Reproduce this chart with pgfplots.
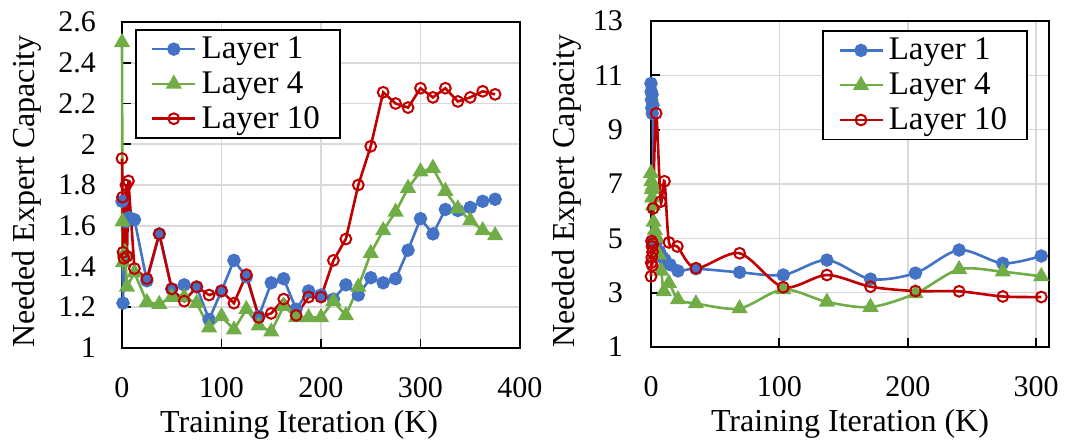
\documentclass[border=0pt]{standalone}
\usepackage{fontspec}
\setmainfont{Liberation Serif}
\usepackage{pgfplots}
\pgfplotsset{compat=1.18}
\definecolor{cblue}{HTML}{4472C4}
\definecolor{cgreen}{HTML}{70AD47}
\definecolor{cred}{HTML}{C00000}
\definecolor{cgrid}{HTML}{D9D9D9}
\pgfplotsset{
  panel/.style={
    scale only axis, width=199pt, height=163pt,
    anchor=south west, clip=false,
    axis line style={black, line width=1pt},
    grid=major, major grid style={cgrid, line width=0.8pt},
    tick align=inside, xtick pos=bottom, ytick pos=left,
    major tick length=4.5pt, tick style={black, line width=0.9pt},
    /pgf/number format/assume math mode=true,
    tick label style={font=\fontsize{15}{18}\selectfont},
    xticklabel style={anchor=center, yshift=-20pt},
    label style={font=\fontsize{16}{19}\selectfont},
    xlabel={Training Iteration (K)},
    ylabel={Needed Expert Capacity},
    legend style={draw=black, line width=0.9pt, font=\fontsize{16.5}{19}\selectfont,
      inner xsep=7.5pt, inner ysep=1pt, nodes={inner sep=2.5pt}},
    legend cell align=left,
    legend image code/.code={\draw[mark repeat=2,mark phase=2]
      plot coordinates {(0pt,0pt) (10.75pt,0pt) (21.5pt,0pt)};},
  },
  l1/.style={cblue, line width=1.3pt, mark=*, mark size=2.7pt},
  l4/.style={cgreen, line width=1.3pt, mark=triangle*, mark size=3.4pt},
  l10/.style={cred, line width=1.3pt, mark=o, mark size=2.7pt, mark options={line width=1pt}},
}
\begin{document}
\begin{tikzpicture}
% left panel
\begin{axis}[panel, at={(0pt,0pt)},
  xmin=0, xmax=400, ymin=1, ymax=2.6,
  xtick={0,100,200,300,400},
  ytick={1,1.2,1.4,1.6,1.8,2,2.2,2.4,2.6},
  yticklabel style={anchor=east, xshift=-9.5pt},
  xlabel style={at={(axis description cs:0.445,-0.258)}, anchor=base},
  ylabel style={at={(axis description cs:-0.2387,0.48)}, anchor=center},
  legend style={at={(0.033,0.979)}, anchor=north west},
]
\addplot[l1] coordinates {
  (0,1.72) (1,1.22) (2,1.45) (4,1.62) (7,1.64) (12.5,1.63) (25,1.33) (37.5,1.56)
  (50,1.29) (62.5,1.31) (75,1.30) (87.5,1.14) (100,1.28) (112.5,1.43) (125,1.35)
  (137.5,1.155) (150,1.32) (162.5,1.34) (175,1.19) (187.5,1.28) (200,1.26)
  (212.5,1.24) (225,1.31) (237.5,1.26) (250,1.345) (262.5,1.32) (275,1.34)
  (287.5,1.48) (300,1.635) (312.5,1.56) (325,1.68) (337.5,1.675) (350,1.69)
  (362.5,1.72) (375,1.73)
};
\addlegendentry{Layer 1}
\addplot[l4] coordinates {
  (0,2.5) (0.5,1.62) (1,1.42) (3,1.47) (5,1.30) (12.5,1.37) (25,1.225) (37.5,1.215)
  (50,1.25) (62.5,1.25) (75,1.22) (87.5,1.10) (100,1.155) (112.5,1.09) (125,1.19)
  (137.5,1.11) (150,1.08) (162.5,1.205) (175,1.15) (187.5,1.15) (200,1.15)
  (212.5,1.23) (225,1.16) (237.5,1.30) (250,1.465) (262.5,1.577) (275,1.668)
  (287.5,1.785) (300,1.866) (312.5,1.883) (325,1.77) (337.5,1.684) (350,1.626)
  (362.5,1.577) (375,1.552)
};
\addlegendentry{Layer 4}
\addplot[l10] coordinates {
  (0,1.93) (0.5,1.74) (1,1.47) (2,1.44) (4,1.80) (5,1.45) (6.5,1.82) (12.5,1.39)
  (25,1.34) (37.5,1.56) (50,1.29) (62.5,1.23) (75,1.30) (87.5,1.26) (100,1.28)
  (112.5,1.22) (125,1.36) (137.5,1.15) (150,1.17) (162.5,1.24) (175,1.16)
  (187.5,1.25) (200,1.25) (212.5,1.43) (225,1.535) (237.5,1.80) (250,1.99)
  (262.5,2.255) (275,2.20) (287.5,2.18) (300,2.275) (312.5,2.23) (325,2.275)
  (337.5,2.21) (350,2.23) (362.5,2.26) (375,2.245)
};
\addlegendentry{Layer 10}
\end{axis}
% right panel
\begin{axis}[panel, at={(264.5pt,0.5pt)},
  xmin=0, xmax=310, ymin=1, ymax=13,
  xtick={0,100,200,300},
  ytick={1,3,5,7,9,11,13},
  yticklabel style={anchor=east, xshift=-10.5pt},
  xlabel style={at={(axis description cs:0.5,-0.258)}, anchor=base},
  ylabel style={at={(axis description cs:-0.211,0.478)}, anchor=center},
  legend style={at={(0.947,0.972)}, anchor=north east},
]
\addplot[l1, smooth] coordinates {
  (0,10.7) (0.2,10.4) (0.4,10.1) (0.6,9.8) (0.8,10.3) (1,9.6) (1.5,9.9) (2,4.9)
  (4.4,4.9) (6.5,4.52) (9,4.3) (10.9,4.21) (14.8,4.03) (21,3.8) (35,3.88)
  (69,3.75) (103,3.65) (137,4.2) (171,3.5) (206,3.72) (240,4.57) (274,4.08) (304,4.35)
};
\addlegendentry{Layer 1}
\addplot[l4, smooth] coordinates {
  (0,7.4) (0.3,7.1) (0.6,6.8) (0.9,6.5) (1.2,6.9) (1.5,6.2) (2,5.6) (3,5.3)
  (4.5,5.0) (6,4.4) (8,3.8) (10,3.05) (14,3.35) (21,2.75) (35,2.6) (69,2.42)
  (103,3.12) (137,2.66) (171,2.47) (206,2.97) (240,3.86) (274,3.77) (304,3.6)
};
\addlegendentry{Layer 4}
\addplot[l10, smooth] coordinates {
  (0,3.6) (0.2,4.1) (0.4,4.9) (0.6,4.3) (0.8,4.7) (1,4.0) (1.2,4.5) (1.4,4.8)
  (1.6,6.1) (4,9.6) (7.5,6.35) (10.5,7.1) (14,4.85) (20.5,4.7) (35,3.9) (69,4.45)
  (103,3.2) (137,3.65) (171,3.22) (206,3.06) (240,3.05) (274,2.86) (304,2.84)
};
\addlegendentry{Layer 10}
\end{axis}
\path (-61pt,-44.5pt) rectangle (472pt,174pt);
\end{tikzpicture}
\end{document}
